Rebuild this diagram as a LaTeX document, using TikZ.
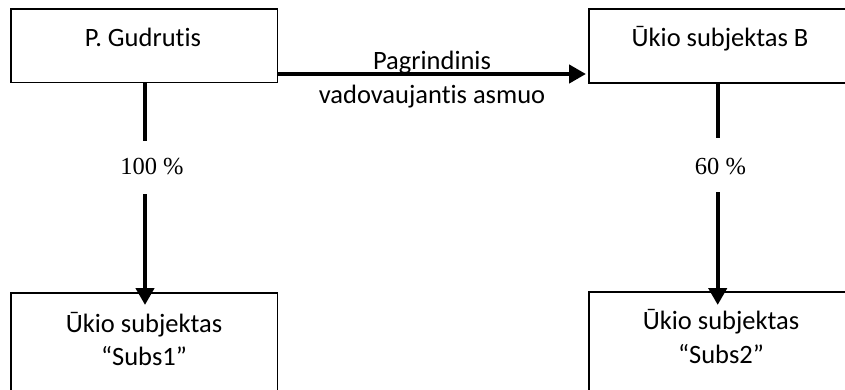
\documentclass[tikz,border=0pt]{standalone}
\usepackage{fontspec}
\setmainfont{Carlito}[RawFeature={-liga}]
\newfontfamily\serifnum{Liberation Serif}
\usetikzlibrary{arrows.meta}
\begin{document}
\begin{tikzpicture}[x=1pt,y=-1pt,
  boxst/.style={draw=black,line width=1.3pt,fill=white},
  txt/.style={font=\fontsize{26.5}{33}\selectfont,inner sep=0pt,anchor=base},
  pct/.style={font=\serifnum\fontsize{24.5}{30}\selectfont,inner sep=0pt},
  conn/.style={line width=4.3pt},
  arr/.style={line width=4.3pt,-{Triangle[width=18pt,length=17pt]}}]
\useasboundingbox (0,0) rectangle (845,389);
\clip (0,0) rectangle (845,389);
% boxes
\draw[boxst] (11,9) rectangle (277.5,82.5);
\draw[boxst] (589,9) rectangle (860,83);
\draw[boxst] (11,293) rectangle (277.5,400);
\draw[boxst] (589,292) rectangle (860,400);
\node[txt] (tg) at (143,46) {P. Gudrutis};
\node[txt] (tb) at (720,46) {Ūkio subjektas B};
\node[txt] (ts1a) at (144,332) {Ūkio subjektas};
\node[txt] (ts1b) at (144,365) {“Subs1”};
\node[txt] (ts2a) at (721,329) {Ūkio subjektas};
\node[txt] (ts2b) at (721,363) {“Subs2”};
% connectors
\coordinate (gr) at (277.5,74);
\coordinate (bl) at (586,74);
\draw[arr] (gr) -- (bl);
\node[txt] (l1) at (432,69) {Pagrindinis};
\node[txt] (l2) at (432,103) {vadovaujantis asmuo};
\node[pct] (p1) at (152,167) {100 \%};
\node[pct] (p2) at (720.5,167) {60 \%};
\coordinate (g1) at (145,82.5);
\coordinate (g2) at (145,141);
\coordinate (g3) at (145,194);
\coordinate (g4) at (145,305);
\draw[conn] (g1) -- (g2);
\draw[arr] (g3) -- (g4);
\coordinate (b1) at (717.7,83);
\coordinate (b2) at (717.7,138);
\coordinate (b3) at (717.7,192);
\coordinate (b4) at (717.7,305);
\draw[conn] (b1) -- (b2);
\draw[arr] (b3) -- (b4);
\end{tikzpicture}
\end{document}
